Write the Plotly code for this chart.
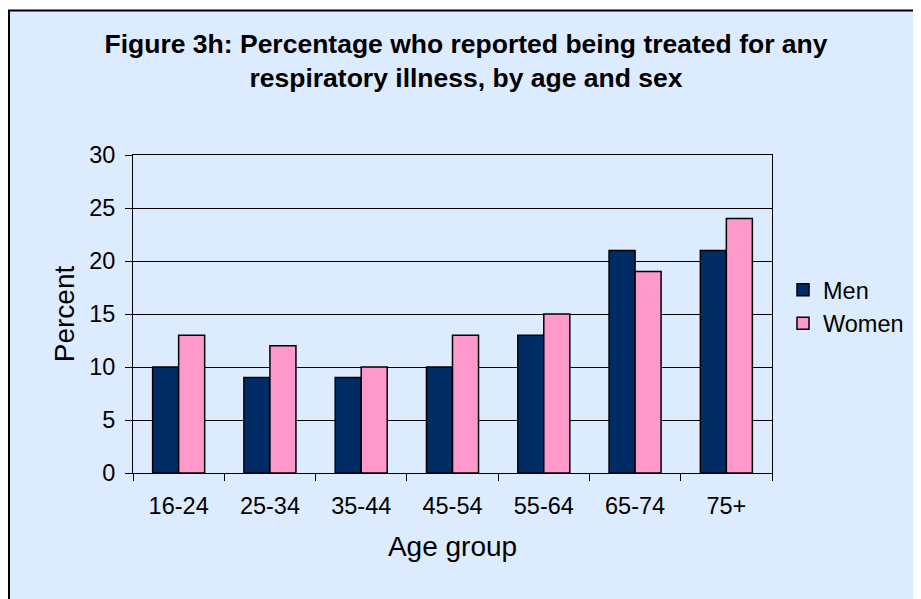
import plotly.graph_objects as go

# 資料
age_groups = ['16-24', '25-34', '35-44', '45-54', '55-64', '65-74', '75+']
men = [10, 9, 9, 10, 13, 21, 21]
women = [13, 12, 10, 13, 15, 19, 24]

# 頁面 body 有 8px 預設邊距，座標皆以畫布像素計算
W, H = 913, 591
L, R, T, B = 125, 149, 147, 126
PW, PH = W - L - R, H - T - B


def px_x(x):
    return (x - L) / PW


def px_y(y):
    return (H - B - y) / PH


FONT = 'Liberation Sans, Arial, sans-serif'

fig = go.Figure()
fig.add_trace(go.Bar(
    x=age_groups, y=men, name='Men',
    marker=dict(color='#002C66', line=dict(color='black', width=1.5)),
))
fig.add_trace(go.Bar(
    x=age_groups, y=women, name='Women',
    marker=dict(color='#FF99CC', line=dict(color='black', width=1.5)),
))

# 圖表區背景（左、上有黑框，右下超出畫面）
fig.add_shape(
    type='rect', xref='paper', yref='paper',
    x0=px_x(1), x1=px_x(W + 20), y0=px_y(H + 20), y1=px_y(2.5),
    fillcolor='#DDEBFF', line=dict(color='black', width=2), layer='below',
)

fig.update_layout(
    width=W, height=H,
    margin=dict(l=L, r=R, t=T, b=B, autoexpand=False),
    paper_bgcolor='white',
    plot_bgcolor='white',
    barmode='group',
    bargap=0.43,
    bargroupgap=0,
    font=dict(family=FONT, size=23.5, color='black'),
    title=dict(
        text='<b>Figure 3h: Percentage who reported being treated for any<br>'
             'respiratory illness, by age and sex</b>',
        x=(466 - 8) / W, xanchor='center', xref='container',
        y=1 - 45 / H, yanchor='middle', yref='container',
        font=dict(family=FONT, size=26.5, color='black'),
    ),
    legend=dict(
        x=px_x(775), xanchor='left', y=px_y(299), yanchor='middle',
        bgcolor='rgba(0,0,0,0)', font=dict(size=23.5),
        tracegroupgap=0,
    ),
    xaxis=dict(
        title=dict(text='Age group', standoff=18),
        showline=True, linecolor='black', linewidth=1, mirror=True,
        ticks='outside', ticklen=7, tickcolor='black', tickson='boundaries',
        ticklabelstandoff=12,
        showgrid=False, automargin=False,
    ),
    yaxis=dict(
        title=dict(text='Percent', standoff=6),
        range=[0, 30], dtick=5,
        showline=True, linecolor='black', linewidth=1, mirror=True,
        ticks='outside', ticklen=7, tickcolor='black',
        ticklabelstandoff=5,
        showgrid=True, gridcolor='black', gridwidth=1,
        zeroline=False, automargin=False,
    ),
)

fig.write_html('out.html')
